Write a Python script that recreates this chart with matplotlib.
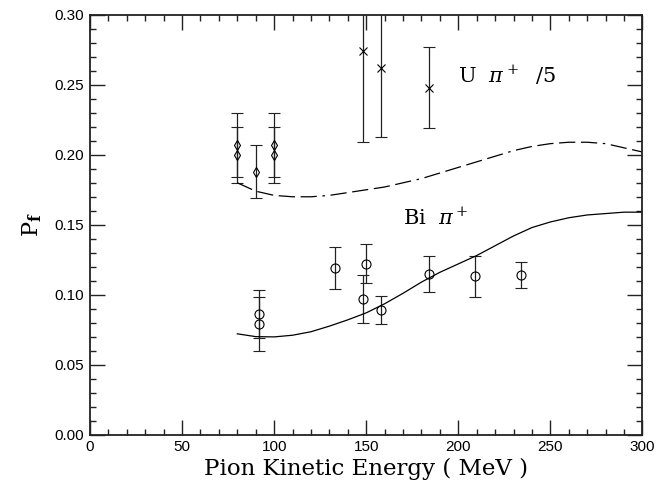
import numpy as np
import matplotlib
matplotlib.use("Agg")
import matplotlib.pyplot as plt
from matplotlib.ticker import MultipleLocator, FormatStrFormatter

plt.rcParams["font.family"] = ["DejaVu Serif"]
plt.rcParams["mathtext.fontset"] = "dejavuserif"

# U pi+ (divided by 5) - diamonds
u_dia_e = [80, 80, 90, 100, 100]
u_dia_p = [0.207, 0.200, 0.188, 0.207, 0.200]
u_dia_err = [0.023, 0.020, 0.019, 0.023, 0.020]

# U pi+ - crosses
u_x_e = [148, 158, 184]
u_x_p = [0.274, 0.262, 0.248]
u_x_err = [0.065, 0.049, 0.029]

# Bi pi+ - circles
bi_e = [92, 92, 133, 148, 150, 158, 184, 209, 234]
bi_p = [0.086, 0.079, 0.119, 0.097, 0.122, 0.089, 0.115, 0.113, 0.114]
bi_err = [0.017, 0.019, 0.015, 0.017, 0.014, 0.010, 0.013, 0.015, 0.0095]

# theory curves
curve_e = [80, 90, 100, 110, 120, 130, 140, 150, 160, 170, 180, 190,
           200, 210, 220, 230, 240, 250, 260, 270, 280, 290, 300]
u_curve = [0.180, 0.174, 0.171, 0.170, 0.170, 0.171, 0.173, 0.175, 0.177,
           0.180, 0.183, 0.187, 0.191, 0.195, 0.199, 0.203, 0.206, 0.208,
           0.209, 0.209, 0.208, 0.205, 0.202]
bi_curve = [0.072, 0.0700, 0.0698, 0.0710, 0.0735, 0.0775, 0.082, 0.087,
            0.0935, 0.101, 0.109, 0.116, 0.122, 0.128, 0.135, 0.142, 0.148,
            0.152, 0.155, 0.157, 0.158, 0.159, 0.159]

fig = plt.figure(figsize=(6.71, 4.88), dpi=100)
ax = fig.add_axes([0.1341, 0.1096, 0.8234, 0.8597])

ebkw = dict(ls="none", color="black", ecolor="#222222", elinewidth=0.9,
            capsize=4, capthick=0.9, mfc="none", mec="black", mew=0.8)

ax.errorbar(u_dia_e, u_dia_p, yerr=u_dia_err, marker="d", ms=5.5, **ebkw)
ax.errorbar(u_x_e, u_x_p, yerr=u_x_err, marker="x", ms=6, **ebkw)
ax.errorbar(bi_e, bi_p, yerr=bi_err, marker="o", ms=6.5, **ebkw)

ax.plot(curve_e, u_curve, color="black", lw=0.9,
        dashes=(13, 4.5, 13, 4.5, 13, 4.5, 13, 4.5, 2, 4.5))
ax.plot(curve_e, bi_curve, color="black", lw=0.9)

ax.text(200, 0.257, r"U  $\pi^+$  /5", fontsize=15, va="center", ha="left")
ax.text(170, 0.155, r"Bi  $\pi^+$", fontsize=15, va="center", ha="left")

ax.set_xlim(0, 300)
ax.set_ylim(0, 0.30)
ax.xaxis.set_major_locator(MultipleLocator(50))
ax.xaxis.set_minor_locator(MultipleLocator(10))
ax.yaxis.set_major_locator(MultipleLocator(0.05))
ax.yaxis.set_minor_locator(MultipleLocator(0.01))
ax.yaxis.set_major_formatter(FormatStrFormatter("%.2f"))

ax.tick_params(which="both", direction="in", top=True, right=True,
               color="#222222", width=1.0)
ax.tick_params(which="major", length=11, labelsize=11, pad=4)
ax.tick_params(which="minor", length=4.5)
for lab in ax.get_xticklabels() + ax.get_yticklabels():
    lab.set_fontfamily("Liberation Sans")

for sp in ax.spines.values():
    sp.set_linewidth(1.3)
    sp.set_color("#222222")

ax.set_xlabel("Pion Kinetic Energy ( MeV )", fontsize=16.5, labelpad=3)
ax.set_ylabel(r"P$_{\mathbf{f}}$", fontsize=16, labelpad=8)

fig.savefig("out.png", dpi=100)
